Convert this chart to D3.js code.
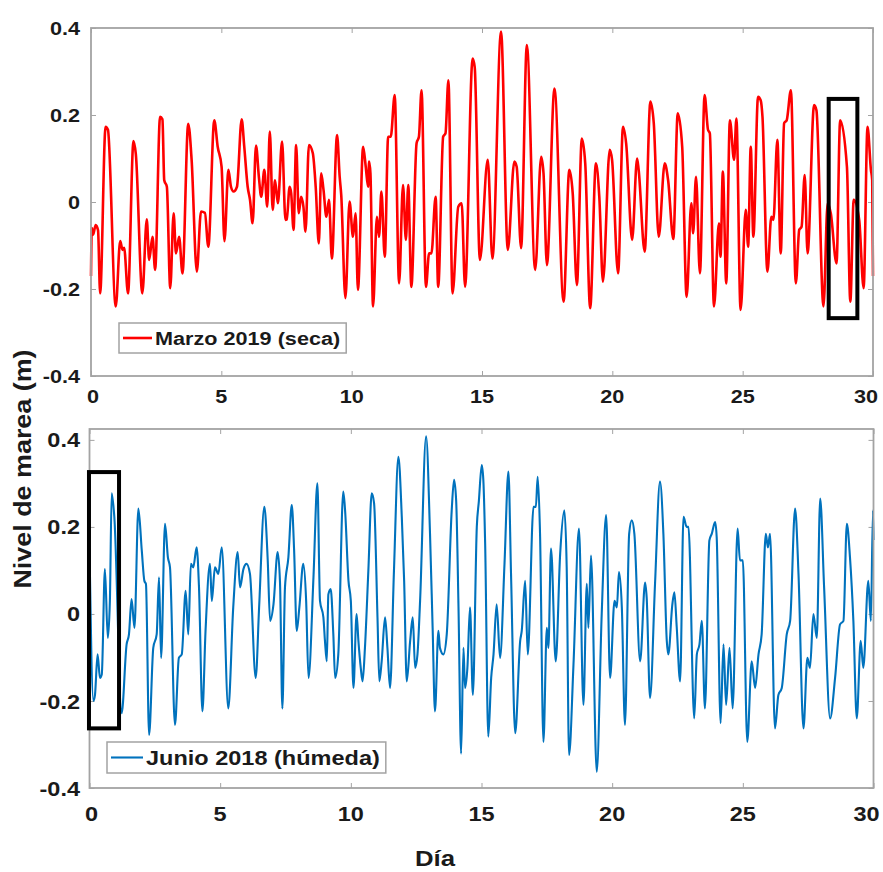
<!DOCTYPE html>
<html>
<head>
<meta charset="utf-8">
<script src="https://cdn.jsdelivr.net/npm/d3@7"></script>
<style>
  body { margin: 0; background: #fff; }
  svg text { font-family: "Liberation Sans", Arial, sans-serif; font-weight: bold; fill: #1a1a1a; }
</style>
</head>
<body>
<svg id="chart" width="883" height="872"></svg>
<script>
// ticks
const diasTicks = [0, 5, 10, 15, 20, 25, 30];
const nivelTicks = [-0.4, -0.2, 0, 0.2, 0.4];

// [dia, nivel (m)], extremes and shoulders
const marzo2019 = [[0,-0.17],[0.03,-0.06],[0.08,-0.075],[0.18,-0.053],[0.27,-0.065],[0.35,-0.21],[0.56,0.173],[0.65,0.166],[0.95,-0.24],[1.12,-0.09],[1.21,-0.11],[1.27,-0.105],[1.42,-0.21],[1.63,0.14],[1.72,0.11],[1.97,-0.21],[2.14,-0.04],[2.23,-0.133],[2.36,-0.08],[2.46,-0.156],[2.65,0.196],[2.74,0.19],[2.81,0.05],[2.91,0.035],[3.04,-0.198],[3.17,-0.026],[3.26,-0.118],[3.38,-0.08],[3.51,-0.164],[3.73,0.18],[3.86,0.097],[4.06,-0.16],[4.22,-0.022],[4.37,-0.025],[4.5,-0.103],[4.73,0.188],[4.86,0.127],[5.01,0.081],[5.12,-0.09],[5.27,0.074],[5.37,0.035],[5.47,0.024],[5.6,0.035],[5.78,0.19],[5.88,0.127],[6.01,0.035],[6.1,0.005],[6.2,-0.049],[6.33,0.13],[6.44,0.058],[6.53,0.012],[6.65,0.074],[6.76,-0.011],[6.86,0.162],[6.97,-0.018],[7.06,0.05],[7.17,-0.003],[7.33,0.139],[7.46,-0.041],[7.51,-0.04],[7.62,0.035],[7.68,0.02],[7.77,-0.064],[7.87,0.131],[7.97,-0.026],[8.06,0.012],[8.15,-0.011],[8.23,-0.068],[8.36,0.131],[8.51,0.112],[8.62,0.035],[8.74,-0.095],[8.83,0.066],[8.92,0.028],[9.03,-0.034],[9.13,0.005],[9.24,-0.13],[9.44,0.154],[9.54,0.058],[9.6,0.016],[9.76,-0.221],[9.92,0.001],[10.05,-0.08],[10.15,-0.026],[10.24,-0.202],[10.44,0.127],[10.54,0.081],[10.63,0.035],[10.67,0.093],[10.72,0.066],[10.82,-0.24],[10.97,-0.034],[11.05,-0.08],[11.14,0.024],[11.27,-0.126],[11.4,0.15],[11.5,0.15],[11.65,0.246],[11.82,-0.187],[11.97,0.039],[12.08,-0.087],[12.17,0.039],[12.29,-0.195],[12.49,0.135],[12.58,0.15],[12.68,0.257],[12.85,-0.195],[12.97,-0.118],[13.06,-0.118],[13.22,0.012],[13.32,-0.195],[13.51,0.15],[13.6,0.158],[13.71,0.28],[13.87,-0.21],[14.09,-0.011],[14.22,-0.003],[14.35,-0.195],[14.64,0.33],[14.72,0.31],[14.92,-0.133],[15.22,0.097],[15.4,-0.13],[15.73,0.392],[15.99,-0.11],[16.24,0.093],[16.33,0.081],[16.5,-0.106],[16.72,0.361],[17.04,-0.156],[17.27,0.104],[17.36,0.066],[17.49,-0.145],[17.78,0.261],[18.13,-0.229],[18.35,0.074],[18.48,0.02],[18.64,-0.191],[18.83,0.146],[18.96,0.089],[19.15,-0.244],[19.37,0.089],[19.5,0.012],[19.64,-0.183],[19.9,0.12],[19.99,0.097],[20.22,-0.164],[20.41,0.173],[20.53,0.135],[20.76,-0.087],[20.95,0.1],[21.01,0.074],[21.24,-0.114],[21.46,0.231],[21.59,0.181],[21.78,-0.08],[22.01,0.089],[22.14,0.05],[22.34,-0.085],[22.51,0.204],[22.68,0.127],[22.85,-0.218],[23.03,-0.003],[23.1,-0.072],[23.21,0.058],[23.36,-0.164],[23.54,0.246],[23.67,0.166],[23.74,0.158],[23.9,-0.24],[24.09,-0.049],[24.15,-0.126],[24.24,0.07],[24.37,-0.187],[24.51,0.188],[24.67,0.097],[24.76,0.192],[24.92,-0.248],[25.12,-0.018],[25.21,-0.103],[25.31,0.127],[25.41,-0.08],[25.59,0.242],[25.69,0.234],[25.76,0.196],[25.95,-0.16],[26.1,-0.034],[26.18,-0.041],[26.33,0.143],[26.46,-0.118],[26.59,0.181],[26.69,0.188],[26.85,0.257],[27.04,-0.187],[27.17,-0.064],[27.26,-0.057],[27.38,0.062],[27.49,-0.118],[27.74,0.223],[27.83,0.211],[28.1,-0.24],[28.26,-0.003],[28.38,-0.026],[28.6,-0.141],[28.74,0.188],[29.0,0.081],[29.13,-0.229],[29.26,0.005],[29.47,-0.041],[29.64,-0.198],[29.79,0.173],[29.92,0.074],[29.97,0.05],[30,-0.17]];

const junio2018 = [[0,0.15],[0.15,-0.2],[0.21,-0.186],[0.31,-0.093],[0.4,-0.147],[0.47,-0.139],[0.59,0.103],[0.7,-0.055],[0.78,0.03],[0.85,0.277],[0.95,0.223],[1.23,-0.228],[1.42,-0.07],[1.51,-0.047],[1.61,0.034],[1.72,-0.032],[1.87,0.242],[2.0,0.146],[2.1,0.076],[2.16,0.069],[2.28,-0.278],[2.44,-0.078],[2.57,-0.047],[2.66,0.084],[2.74,-0.101],[2.89,0.207],[3.0,0.13],[3.08,0.107],[3.27,-0.255],[3.42,-0.101],[3.53,-0.093],[3.68,0.053],[3.78,-0.047],[3.88,0.115],[3.97,0.107],[4.1,0.153],[4.19,0.061],[4.32,-0.224],[4.44,-0.039],[4.61,0.115],[4.68,0.03],[4.8,0.107],[4.93,0.092],[5.06,0.153],[5.31,-0.217],[5.5,0.015],[5.67,0.142],[5.76,0.061],[5.89,0.103],[6.01,0.115],[6.14,0.092],[6.36,-0.147],[6.49,0.015],[6.69,0.246],[6.82,0.123],[6.91,-0.016],[7.04,0.022],[7.2,0.142],[7.29,0.072],[7.38,-0.217],[7.48,0.061],[7.61,0.13],[7.74,0.25],[7.83,0.146],[7.93,-0.039],[8.03,0.015],[8.18,0.115],[8.29,0.03],[8.38,-0.147],[8.57,0.084],[8.72,0.3],[8.82,0.03],[8.95,-0.008],[9.01,-0.062],[9.08,-0.109],[9.14,0.045],[9.23,0.057],[9.33,-0.047],[9.4,-0.147],[9.52,-0.093],[9.71,0.281],[9.78,0.238],[9.91,0.076],[10.0,0.03],[10.1,-0.17],[10.22,0.0],[10.29,-0.062],[10.38,-0.124],[10.45,-0.155],[10.54,-0.078],[10.67,0.099],[10.8,0.277],[10.89,0.254],[11.02,-0.008],[11.09,-0.155],[11.18,-0.109],[11.31,-0.008],[11.4,-0.078],[11.5,-0.17],[11.65,0.099],[11.82,0.361],[11.95,0.223],[12.04,0.076],[12.14,-0.155],[12.27,-0.062],[12.37,-0.008],[12.46,-0.124],[12.55,-0.093],[12.65,0.03],[12.88,0.408],[13.03,0.184],[13.13,-0.032],[13.22,-0.224],[13.35,-0.039],[13.41,-0.078],[13.54,-0.093],[13.67,-0.047],[13.86,0.238],[13.95,0.308],[14.03,0.261],[14.12,0.015],[14.22,-0.321],[14.31,-0.078],[14.37,-0.17],[14.46,-0.124],[14.56,0.015],[14.67,-0.186],[14.82,0.2],[14.9,0.26],[15.01,0.342],[15.07,0.308],[15.14,0.161],[15.26,-0.282],[15.37,-0.147],[15.46,-0.093],[15.58,0.022],[15.71,-0.101],[15.88,0.115],[16.03,0.327],[16.13,0.092],[16.29,-0.274],[16.48,-0.062],[16.54,-0.039],[16.67,0.076],[16.77,-0.093],[16.99,0.246],[17.08,0.246],[17.15,0.315],[17.24,0.184],[17.37,-0.294],[17.5,-0.032],[17.56,-0.078],[17.66,0.15],[17.84,-0.109],[18.01,0.138],[18.17,0.238],[18.26,0.107],[18.35,-0.324],[18.52,-0.116],[18.73,0.196],[18.9,-0.209],[19.03,0.069],[19.09,-0.032],[19.19,0.134],[19.41,-0.363],[19.6,0.0],[19.77,0.227],[19.92,-0.147],[20.09,0.03],[20.18,0.015],[20.26,0.096],[20.37,0.015],[20.49,-0.255],[20.65,0.184],[20.75,0.215],[20.85,0.184],[21.07,-0.109],[21.26,0.072],[21.32,0.038],[21.45,-0.193],[21.64,0.069],[21.83,0.304],[21.96,0.184],[22.09,-0.062],[22.15,-0.093],[22.3,0.02],[22.38,0.05],[22.47,-0.03],[22.6,-0.155],[22.73,0.223],[22.85,0.2],[22.92,0.2],[23.14,-0.24],[23.24,-0.093],[23.34,-0.07],[23.43,-0.016],[23.55,-0.217],[23.72,0.169],[23.81,0.184],[23.94,0.211],[24.0,0.176],[24.15,-0.251],[24.26,-0.07],[24.36,-0.209],[24.49,-0.078],[24.61,-0.217],[24.8,0.196],[24.89,0.123],[25.0,0.123],[25.17,-0.294],[25.34,-0.109],[25.47,-0.17],[25.6,-0.093],[25.72,-0.047],[25.88,0.184],[25.96,0.153],[26.04,0.184],[26.23,-0.263],[26.36,-0.186],[26.49,-0.17],[26.68,-0.047],[26.81,-0.016],[27.0,0.242],[27.13,0.092],[27.32,-0.263],[27.47,-0.101],[27.57,-0.124],[27.7,0.0],[27.83,-0.055],[27.96,0.265],[28.11,0.061],[28.34,-0.24],[28.53,-0.147],[28.72,-0.024],[28.85,-0.016],[28.98,0.207],[29.1,0.13],[29.23,-0.016],[29.36,-0.24],[29.51,-0.062],[29.61,-0.124],[29.8,0.076],[29.9,-0.016],[29.98,0.238],[30.0,0.17]];

const nombres = ["Marzo 2019 (seca)", "Junio 2018 (húmeda)"];
const colores = ["#ff0000", "#0072bd"];

// highlighted windows: [dia0, dia1, nivel0, nivel1]
const recuadroMarzo = [28.3, 29.4, -0.267, 0.237];
const recuadroJunio = [-0.02, 1.13, -0.263, 0.326];

var svg = d3.select("#chart");
var axisColor = "#a3a3a3";

// text is a bit wider than Liberation Sans in the figure, so stretch it
function label(sel, x, y, str, size, sx, anchor) {
  return sel.append("text")
    .attr("transform", "translate(" + x + "," + y + ") scale(" + sx + ",1)")
    .attr("text-anchor", anchor || "start")
    .style("font-size", size + "px")
    .text(str);
}

var panels = [
  { data: marzo2019, name: nombres[0], color: colores[0], box: recuadroMarzo, lw: 2.6,
    x0: 91, x1: 873, y0: 376, y1: 28, ymax: 0.4, labY: 403, fs: 18.5, sx: 1.17,
    leg: { x: 119, y: 323, h: 30, l0: 4, l1: 33, tx: 36 } },
  { data: junio2018, name: nombres[1], color: colores[1], box: recuadroJunio, lw: 2.1,
    x0: 89.5, x1: 873.5, y0: 788, y1: 429, ymax: 0.425, labY: 821, fs: 21, sx: 1.12,
    leg: { x: 107, y: 742, h: 31, l0: 4, l1: 36, tx: 39 } }
];

panels.forEach(function(p) {
  var x = d3.scaleLinear().domain([0, 30]).range([p.x0, p.x1]);
  var y = d3.scaleLinear().domain([-0.4, p.ymax]).range([p.y0, p.y1]);
  var g = svg.append("g");

  // inward ticks on all four sides
  var tk = 5;
  g.append("g").attr("transform", "translate(0," + p.y0 + ")")
    .call(d3.axisBottom(x).tickValues(diasTicks).tickSize(-tk).tickFormat(""))
    .call(s => s.select(".domain").remove())
    .selectAll("line").attr("stroke", axisColor);
  g.append("g").attr("transform", "translate(0," + p.y1 + ")")
    .call(d3.axisTop(x).tickValues(diasTicks).tickSize(-tk).tickFormat(""))
    .call(s => s.select(".domain").remove())
    .selectAll("line").attr("stroke", axisColor);
  g.append("g").attr("transform", "translate(" + p.x0 + ",0)")
    .call(d3.axisLeft(y).tickValues(nivelTicks).tickSize(-tk).tickFormat(""))
    .call(s => s.select(".domain").remove())
    .selectAll("line").attr("stroke", axisColor);
  g.append("g").attr("transform", "translate(" + p.x1 + ",0)")
    .call(d3.axisRight(y).tickValues(nivelTicks).tickSize(-tk).tickFormat(""))
    .call(s => s.select(".domain").remove())
    .selectAll("line").attr("stroke", axisColor);

  // tick labels (last one nudged so it stays on the page)
  diasTicks.forEach(function(d) {
    var dx = d === 0 ? 2 : (d === 30 ? -7 : 0);
    label(g, x(d) + dx, p.labY, d, p.fs, p.sx, "middle");
  });
  var cap = p.fs * 0.36;
  nivelTicks.forEach(function(d) {
    label(g, 80, y(d) + cap, String(d), p.fs, p.sx, "end");
  });

  // series
  var line = d3.line()
    .x(d => x(d[0])).y(d => y(d[1]))
    .curve(d3.curveMonotoneX);
  g.append("path").datum(p.data)
    .attr("d", line).attr("fill", "none")
    .attr("stroke", p.color).attr("stroke-width", p.lw)
    .attr("stroke-linejoin", "round");

  // frame
  g.append("rect")
    .attr("x", p.x0).attr("y", p.y1)
    .attr("width", p.x1 - p.x0).attr("height", p.y0 - p.y1)
    .attr("fill", "none").attr("stroke", axisColor).attr("stroke-width", 1.8);

  // legend
  var lg = g.append("g");
  var lbox = lg.append("rect")
    .attr("x", p.leg.x).attr("y", p.leg.y).attr("height", p.leg.h)
    .attr("fill", "#fff").attr("stroke", axisColor).attr("stroke-width", 1.5);
  lg.append("line")
    .attr("x1", p.leg.x + p.leg.l0).attr("x2", p.leg.x + p.leg.l1)
    .attr("y1", p.leg.y + p.leg.h / 2).attr("y2", p.leg.y + p.leg.h / 2)
    .attr("stroke", p.color).attr("stroke-width", p.lw);
  var lt = label(lg, p.leg.x + p.leg.tx, p.leg.y + p.leg.h / 2 + cap, p.name, p.fs, p.sx);
  lbox.attr("width", lt.node().getComputedTextLength() * p.sx + p.leg.tx + 6);

  // highlight box
  g.append("rect")
    .attr("x", x(p.box[0])).attr("y", y(p.box[3]))
    .attr("width", x(p.box[1]) - x(p.box[0]))
    .attr("height", y(p.box[2]) - y(p.box[3]))
    .attr("fill", "none").attr("stroke", "#000").attr("stroke-width", 4);
});

// shared axis titles
svg.append("text")
  .attr("transform", "translate(31,469) rotate(-90) scale(1.17,1)")
  .attr("text-anchor", "middle").style("font-size", "23px")
  .text("Nivel de marea (m)");
label(svg, 435, 866, "Día", 22, 1.17, "middle");
</script>
</body>
</html>
